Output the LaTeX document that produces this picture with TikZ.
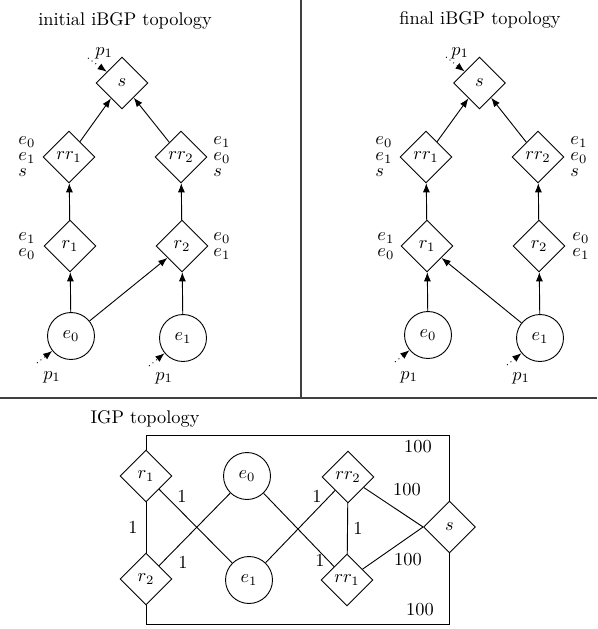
\documentclass[tikz,border=0pt]{standalone}
\usetikzlibrary{shapes.geometric,arrows.meta}
\begin{document}
\begin{tikzpicture}[x=0.545pt,y=-0.545pt,line width=0.5pt,
  dnode/.style={draw,diamond,aspect=1,minimum width=28.3pt,minimum height=28.3pt,inner sep=0pt},
  cnode/.style={draw,circle,minimum size=25.6pt,inner sep=0pt},
  arr/.style={-{Latex[length=5pt,width=3.8pt]}},
  parr/.style={dotted,arr},
  lbl/.style={inner sep=0pt,anchor=west},
  plain/.style={inner sep=0pt},
  divider/.style={draw=black!75,line width=0.6pt}]
\useasboundingbox (0,0) rectangle (597,629);
% dividers
\coordinate (dvt) at (301,0);
\coordinate (dvb) at (301,398);
\coordinate (dhl) at (0,398);
\coordinate (dhr) at (597,398);
\draw[divider] (dvt) -- (dvb);
\draw[divider] (dhl) -- (dhr);

% ---------- initial iBGP topology ----------
\node[plain] (tA) at (125,21) {initial iBGP topology};
\node[dnode] (As) at (122,83) {$s$};
\node[dnode] (Arr1) at (69,157) {$rr_1$};
\node[dnode] (Arr2) at (181,157) {$rr_2$};
\node[dnode] (Ar1) at (70,246) {$r_1$};
\node[dnode] (Ar2) at (182,246) {$r_2$};
\node[cnode] (Ae0) at (71,336) {$e_0$};
\node[cnode] (Ae1) at (183,338) {$e_1$};
\draw[arr] (Arr1) -- (As);
\draw[arr] (Arr2) -- (As);
\draw[arr] (Ar1) -- (Arr1);
\draw[arr] (Ar2) -- (Arr2);
\draw[arr] (Ae0) -- (Ar1);
\draw[arr] (Ae0) -- (Ar2);
\draw[arr] (Ae1) -- (Ar2);
\coordinate (Aps) at (88,58);
\node[plain] (Alps) at (104,53) {$p_1$};
\draw[parr] (Aps) -- (As);
\coordinate (Ape0) at (37,363);
\node[plain] (Alpe0) at (52,377) {$p_1$};
\draw[parr] (Ape0) -- (Ae0);
\coordinate (Ape1) at (149,366);
\node[plain] (Alpe1) at (164,378) {$p_1$};
\draw[parr] (Ape1) -- (Ae1);
\node[lbl] (Aa1) at (18,142) {$e_0$};
\node[lbl] (Aa2) at (18,158) {$e_1$};
\node[lbl] (Aa3) at (18,173) {$s$};
\node[lbl] (Ab1) at (213,142) {$e_1$};
\node[lbl] (Ab2) at (213,158) {$e_0$};
\node[lbl] (Ab3) at (213,173) {$s$};
\node[lbl] (Ac1) at (18,238) {$e_1$};
\node[lbl] (Ac2) at (18,254) {$e_0$};
\node[lbl] (Ad1) at (213,238) {$e_0$};
\node[lbl] (Ad2) at (213,254) {$e_1$};

% ---------- final iBGP topology ----------
\node[plain] (tB) at (480,20) {final iBGP topology};
\node[dnode] (Bs) at (479.5,83) {$s$};
\node[dnode] (Brr1) at (426,157) {$rr_1$};
\node[dnode] (Brr2) at (538,157) {$rr_2$};
\node[dnode] (Br1) at (427,246) {$r_1$};
\node[dnode] (Br2) at (539,246) {$r_2$};
\node[cnode] (Be0) at (428,335) {$e_0$};
\node[cnode] (Be1) at (540,338) {$e_1$};
\draw[arr] (Brr1) -- (Bs);
\draw[arr] (Brr2) -- (Bs);
\draw[arr] (Br1) -- (Brr1);
\draw[arr] (Br2) -- (Brr2);
\draw[arr] (Be0) -- (Br1);
\draw[arr] (Be1) -- (Br1);
\draw[arr] (Be1) -- (Br2);
\coordinate (Bps) at (446,57);
\node[plain] (Blps) at (460,53) {$p_1$};
\draw[parr] (Bps) -- (Bs);
\coordinate (Bpe0) at (395,362);
\node[plain] (Blpe0) at (409,377) {$p_1$};
\draw[parr] (Bpe0) -- (Be0);
\coordinate (Bpe1) at (507,365);
\node[plain] (Blpe1) at (521,378) {$p_1$};
\draw[parr] (Bpe1) -- (Be1);
\node[lbl] (Ba1) at (375,142) {$e_0$};
\node[lbl] (Ba2) at (375,158) {$e_1$};
\node[lbl] (Ba3) at (375,173) {$s$};
\node[lbl] (Bb1) at (570,142) {$e_1$};
\node[lbl] (Bb2) at (570,158) {$e_0$};
\node[lbl] (Bb3) at (570,173) {$s$};
\node[lbl] (Bc1) at (377,238) {$e_1$};
\node[lbl] (Bc2) at (377,254) {$e_0$};
\node[lbl] (Bd1) at (572,238) {$e_0$};
\node[lbl] (Bd2) at (572,254) {$e_1$};

% ---------- IGP topology ----------
\node[plain] (tC) at (145,419) {IGP topology};
\node[dnode] (Cr1) at (146,476) {$r_1$};
\node[dnode] (Cr2) at (146,579) {$r_2$};
\node[cnode] (Ce0) at (247,476) {$e_0$};
\node[cnode] (Ce1) at (249,580) {$e_1$};
\node[dnode] (Crr2) at (348,477) {$rr_2$};
\node[dnode] (Crr1) at (347,580) {$rr_1$};
\node[dnode] (Cs) at (449.5,527) {$s$};
\coordinate (Ctop) at (449.5,435);
\coordinate (Cbot) at (449.5,624);
\draw (Cr1) -- (Cr2);
\draw (Cr1) -- (Ce1);
\draw (Cr2) -- (Ce0);
\draw (Ce0) -- (Crr1);
\draw (Ce1) -- (Crr2);
\draw (Crr2) -- (Crr1);
\draw (Crr2) -- (Cs.west);
\draw (Crr1) -- (Cs.west);
\draw (Cr1.north) |- (Ctop) -- (Cs.north);
\draw (Cr2.south) |- (Cbot) -- (Cs.south);
\node[plain] (w1) at (133,527) {1};
\node[plain] (w2) at (182,496) {1};
\node[plain] (w3) at (183,562) {1};
\node[plain] (w4) at (320,560) {1};
\node[plain] (w5) at (317,496) {1};
\node[plain] (w6) at (358,528) {1};
\node[plain] (w7) at (407,490) {100};
\node[plain] (w8) at (408,560) {100};
\node[plain] (w9) at (418,447) {100};
\node[plain] (w10) at (420,610) {100};
\end{tikzpicture}
\end{document}
